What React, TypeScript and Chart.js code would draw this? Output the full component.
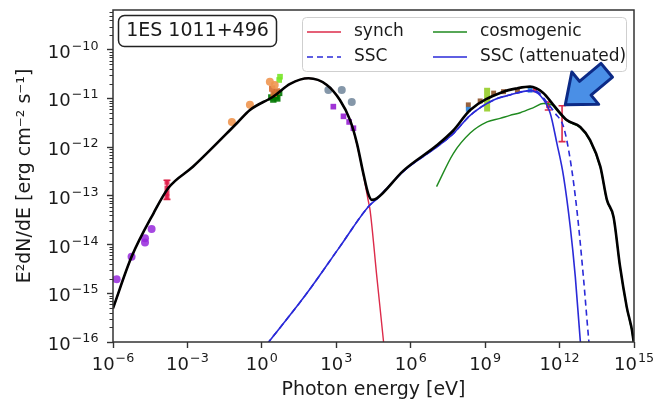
import React, { useEffect, useRef } from 'react';
import { Chart, registerables } from 'chart.js';
Chart.register(...registerables);

// ---------- model curves (E in eV, E^2 dN/dE in erg cm^-2 s^-1) ----------
const totalE = [1e-6, 5.6e-6, 4.3e-5, 1.7e-4, 1.7e-3, 9.8e-2, 0.33, 2.9, 13.8, 76, 417, 1.4e3, 3.6e3, 6.8e3, 1.23e4, 1.95e4, 2.7e4, 4.3e4, 5.1e5, 1.1e7, 5.2e7, 2.5e8, 5.5e9, 2.0e10, 6.5e10, 2.2e11, 5.6e11, 1.95e12, 6.8e12, 1.7e13, 4.4e13, 8.1e13, 1.5e14, 2.75e14, 5.1e14, 9.5e14, 1e15];
const totalF = [4.9e-16, 5.6e-15, 4.4e-14, 1.45e-13, 4.0e-13, 3.1e-12, 5.8e-12, 1.1e-11, 2.0e-11, 2.6e-11, 1.9e-11, 9.3e-12, 3.6e-12, 1.2e-12, 2.9e-13, 1.1e-13, 8.3e-14, 8.9e-14, 3.3e-13, 1.08e-12, 2.2e-12, 5.8e-12, 1.38e-11, 1.62e-11, 1.75e-11, 1.3e-11, 7.4e-12, 3.6e-12, 2.6e-12, 1.4e-12, 4.0e-13, 8.3e-14, 3.7e-14, 3.5e-15, 5.2e-16, 1.1e-16, 8e-17];

const synchE = [1e-6, 5.6e-6, 4.3e-5, 1.7e-4, 1.7e-3, 9.8e-2, 0.33, 2.9, 13.8, 76, 417, 1.4e3, 3.6e3, 6.8e3, 1.23e4, 1.95e4, 2.3e4, 4.3e4, 7.9e4, 8.9e4];
const synchF = [4.9e-16, 5.6e-15, 4.4e-14, 1.45e-13, 4.0e-13, 3.1e-12, 5.8e-12, 1.1e-11, 2.0e-11, 2.6e-11, 1.9e-11, 9.3e-12, 3.6e-12, 1.15e-12, 2.75e-13, 7.9e-14, 5.1e-14, 2.2e-15, 1.1e-16, 6e-17];

const sscAttE = [1.6, 65, 1.4e3, 1.95e4, 4.3e4, 5.1e5, 1.1e7, 5.2e7, 2.5e8, 2.2e9, 1e10, 6.5e10, 1.66e11, 4.2e11, 7.8e11, 1.45e12, 2.7e12, 4.3e12, 6.8e12, 7.2e12];
const sscAttF = [9e-17, 1e-15, 9.1e-15, 6.0e-14, 8.7e-14, 3.2e-13, 1.0e-12, 1.9e-12, 4.5e-12, 9.3e-12, 1.18e-11, 1.45e-11, 1.15e-11, 5.0e-12, 1.2e-12, 2.5e-13, 2.3e-14, 2.2e-15, 1.1e-16, 8e-17];

const sscE = [1.6, 65, 1.4e3, 1.95e4, 4.3e4, 5.1e5, 1.1e7, 5.2e7, 2.5e8, 2.2e9, 1e10, 6.5e10, 1.2e11, 3.0e11, 6.6e11, 1.45e12, 2.7e12, 5.0e12, 9.1e12, 1.5e13, 1.6e13];
const sscF = [9e-17, 1e-15, 9.1e-15, 6.0e-14, 8.7e-14, 3.2e-13, 1.0e-12, 1.9e-12, 4.5e-12, 9.3e-12, 1.18e-11, 1.45e-11, 1.4e-11, 8.5e-12, 5.0e-12, 2.6e-12, 5.5e-13, 5.1e-14, 2.2e-15, 1.1e-16, 8e-17];

const cosmoE = [1.1e7, 5.2e7, 2.5e8, 1.2e9, 4.0e9, 1e10, 2.6e10, 8.9e10, 2.2e11, 4.5e11, 8e11, 1.95e12, 6.8e12, 1.7e13, 4.4e13, 8.1e13, 1.5e14, 2.75e14, 5.1e14, 9.5e14, 1e15];
const cosmoF = [1.55e-13, 7.4e-13, 1.95e-12, 3.3e-12, 3.9e-12, 4.5e-12, 5.1e-12, 6.5e-12, 7.9e-12, 7.6e-12, 5.6e-12, 3.5e-12, 2.5e-12, 1.35e-12, 3.8e-13, 8e-14, 3.6e-14, 3.4e-15, 5e-16, 1.05e-16, 7.8e-17];

// ---------- observed data ----------
const radioE = [1.4e-6, 5.6e-6, 1.95e-5, 1.95e-5, 3.6e-5];
const radioF = [1.95e-15, 5.6e-15, 1.35e-14, 1.1e-14, 2.1e-14];
const mmE = [1.5e-4, 1.5e-4, 1.5e-4, 1.5e-4];
const mmF = [1.9e-13, 1.45e-13, 1.15e-13, 9.5e-14];
const optE = [6.2e-2, 0.33, 2.1, 3.3];
const optF = [3.3e-12, 7.4e-12, 2.2e-11, 1.9e-11];
const uvE = [2.6, 4.0, 3.0];
const uvF = [1.6e-11, 1.4e-11, 1.25e-11];
const xrayE = [2.4, 2.9, 3.4, 4.2, 5.0, 3.8];
const xrayF = [1.05e-11, 9.5e-12, 1.2e-11, 1.0e-11, 1.3e-11, 1.1e-11];
const xrayHiE = [5.4, 5.0];
const xrayHiF = [2.8e-11, 2.4e-11];
const slateE = [480, 1.66e3, 4.2e3];
const slateF = [1.5e-11, 1.5e-11, 8.5e-12];
const hardXE = [760, 1.95e3, 3.3e3, 4.9e3];
const hardXF = [6.8e-12, 4.3e-12, 3.3e-12, 2.45e-12];
const fermiE = [2.1e8, 6.3e8, 2.2e9, 5.5e9, 2.0e10];
const fermiF = [7.4e-12, 8.9e-12, 1.29e-11, 1.38e-11, 1.45e-11];
const fermiBlueE = [2.1e8, 6.5e10];
const fermiBlueF = [6.0e-12, 1.48e-11];
const vheE = [1.0e11, 3.5e11];
const vheF = [1.48e-11, 7.0e-12];
const errE = [1.5e-4, 3.5e11, 1.26e12];
const errLo = [8.5e-14, 5.8e-12, 1.3e-12];
const errHi = [2.1e-13, 8.5e-12, 7.1e-12];
const barE = [1.2e9];
const barLo = [5.4e-12];
const barHi = [1.66e-11];
const arrowTargetE = 1.7e12;
const arrowTargetF = 7.4e-12;

// ---------- ticks ----------
const xTickValues = [1e-6, 1e-3, 1, 1e3, 1e6, 1e9, 1e12, 1e15];
const xTickExps = ['−6', '−3', '0', '3', '6', '9', '12', '15'];
const yTickValues = [1e-16, 1e-15, 1e-14, 1e-13, 1e-12, 1e-11, 1e-10];
const yTickExps = ['−16', '−15', '−14', '−13', '−12', '−11', '−10'];
const yMinorMult = [2, 3, 4, 5, 6, 7, 8, 9];
const tickBase = '10';

const sourceName = '1ES 1011+496';
const FONT = 'DejaVu Sans';
const TXT = '#1a1a1a';
const C_SYN = '#dc2b4a';
const C_SSC = '#2a2ad8';
const C_COS = '#1f8a1f';

const pts = (xs: number[], ys: number[]) => xs.map((x, i) => ({ x, y: ys[i] }));

const lineDs = (label: string, xs: number[], ys: number[], color: string, width: number, dash: number[] = []) => ({
  type: 'line' as const,
  label,
  data: pts(xs, ys),
  borderColor: color,
  backgroundColor: color,
  borderWidth: width,
  borderDash: dash,
  pointRadius: 0,
  pointHoverRadius: 0,
  fill: false,
  cubicInterpolationMode: 'monotone' as const,
});

const dotDs = (label: string, xs: number[], ys: number[], color: string, style: string = 'circle', r = 4) => ({
  type: 'scatter' as const,
  label,
  data: pts(xs, ys),
  showLine: false,
  pointRadius: r,
  pointHoverRadius: r,
  pointStyle: style,
  pointBackgroundColor: color,
  pointBorderColor: color,
  pointBorderWidth: 0,
  borderColor: color,
  backgroundColor: color,
});

function drawPow(ctx: CanvasRenderingContext2D, exp: string, x: number, baseline: number, align: 'center' | 'right') {
  ctx.font = `18px "${FONT}"`;
  const wb = ctx.measureText(tickBase).width;
  ctx.font = `12.7px "${FONT}"`;
  const we = ctx.measureText(exp).width;
  const total = wb + 1 + we;
  const sx = align === 'center' ? x - total / 2 : x - total;
  ctx.textAlign = 'left';
  ctx.textBaseline = 'alphabetic';
  ctx.fillStyle = TXT;
  ctx.font = `18px "${FONT}"`;
  ctx.fillText(tickBase, sx, baseline);
  ctx.font = `12.7px "${FONT}"`;
  ctx.fillText(exp, sx + wb + 1, baseline - 8);
}

const decor = {
  id: 'decor',
  beforeDatasetsDraw(chart: any) {
    const { ctx, chartArea: a, scales } = chart;
    const xs = scales.x, ys = scales.y;
    ctx.save();
    ctx.beginPath();
    ctx.rect(a.left, a.top, a.right - a.left, a.bottom - a.top);
    ctx.clip();
    ctx.strokeStyle = 'rgba(150,205,40,0.9)';
    ctx.lineWidth = 6;
    barE.forEach((e, i) => {
      const x = xs.getPixelForValue(e);
      ctx.beginPath();
      ctx.moveTo(x, ys.getPixelForValue(barLo[i]));
      ctx.lineTo(x, ys.getPixelForValue(barHi[i]));
      ctx.stroke();
    });
    ctx.strokeStyle = C_SYN;
    ctx.lineWidth = 1.6;
    errE.forEach((e, i) => {
      const x = xs.getPixelForValue(e);
      const y1 = ys.getPixelForValue(errLo[i]);
      const y2 = ys.getPixelForValue(errHi[i]);
      ctx.beginPath();
      ctx.moveTo(x, y1); ctx.lineTo(x, y2);
      ctx.moveTo(x - 3.5, y1); ctx.lineTo(x + 3.5, y1);
      ctx.moveTo(x - 3.5, y2); ctx.lineTo(x + 3.5, y2);
      ctx.stroke();
    });
    ctx.restore();
  },
  afterDraw(chart: any) {
    const { ctx, chartArea: a, scales } = chart;
    const ys = scales.y, xs = scales.x;
    ctx.save();
    // frame
    ctx.strokeStyle = '#333';
    ctx.lineWidth = 1.5;
    ctx.strokeRect(a.left, a.top, a.right - a.left, a.bottom - a.top);
    // minor y ticks
    ctx.lineWidth = 1;
    ctx.beginPath();
    yTickValues.forEach((v) => {
      yMinorMult.forEach((m) => {
        const val = v * m;
        if (val > ys.max) return;
        const y = Math.round(ys.getPixelForValue(val)) + 0.5;
        ctx.moveTo(a.left - 3.5, y);
        ctx.lineTo(a.left, y);
      });
    });
    ctx.stroke();
    // tick labels
    xTickValues.forEach((v, i) => drawPow(ctx, xTickExps[i], xs.getPixelForValue(v), a.bottom + 28, 'center'));
    yTickValues.forEach((v, i) => drawPow(ctx, yTickExps[i], a.left - 14.5, ys.getPixelForValue(v) + 8, 'right'));

    // source label box
    ctx.fillStyle = '#fff';
    ctx.strokeStyle = '#222';
    ctx.lineWidth = 1.5;
    ctx.beginPath();
    ctx.roundRect(118.5, 15.5, 158, 31, 6);
    ctx.fill();
    ctx.stroke();
    ctx.fillStyle = TXT;
    ctx.font = `19px "${FONT}"`;
    ctx.textAlign = 'center';
    ctx.textBaseline = 'middle';
    ctx.fillText(sourceName, 197.5, 31.5);

    // legend
    ctx.fillStyle = 'rgba(255,255,255,0.85)';
    ctx.strokeStyle = '#cfcfcf';
    ctx.lineWidth = 1;
    ctx.beginPath();
    ctx.roundRect(302.5, 17.5, 324, 54, 4);
    ctx.fill();
    ctx.stroke();
    const ds = chart.data.datasets;
    const find = (l: string) => ds.find((d: any) => d.label === l);
    const entries = [
      { d: find('synch'), x: 307, y: 32 },
      { d: find('SSC'), x: 307, y: 57 },
      { d: find('cosmogenic'), x: 433, y: 32 },
      { d: find('SSC (attenuated)'), x: 433, y: 57 },
    ];
    ctx.font = `17px "${FONT}"`;
    ctx.textAlign = 'left';
    ctx.textBaseline = 'middle';
    entries.forEach(({ d, x, y }) => {
      ctx.strokeStyle = d.borderColor;
      ctx.lineWidth = d.borderWidth;
      ctx.setLineDash(d.borderDash || []);
      ctx.beginPath();
      ctx.moveTo(x, y);
      ctx.lineTo(x + 34, y);
      ctx.stroke();
      ctx.setLineDash([]);
      ctx.fillStyle = TXT;
      ctx.fillText(d.label, x + 47, y);
    });

    // arrow
    const tx = xs.getPixelForValue(arrowTargetE);
    const ty = ys.getPixelForValue(arrowTargetF);
    const ang = Math.atan2(-1, 1.2);
    const L = 54, HL = 26, HW = 21, SW = 9;
    const shape = [
      [0, 0], [HL, -HW], [HL, -SW], [L, -SW], [L, SW], [HL, SW], [HL, HW],
    ];
    const ca = Math.cos(ang), sa = Math.sin(ang);
    ctx.beginPath();
    shape.forEach(([u, v], i) => {
      const px = tx + u * ca - v * sa;
      const py = ty + u * sa + v * ca;
      if (i === 0) ctx.moveTo(px, py); else ctx.lineTo(px, py);
    });
    ctx.closePath();
    ctx.fillStyle = '#4a8fe6';
    ctx.fill();
    ctx.strokeStyle = '#0c2a86';
    ctx.lineWidth = 3;
    ctx.lineJoin = 'round';
    ctx.stroke();
    ctx.restore();
  },
};

export default function App() {
  const ref = useRef<HTMLCanvasElement>(null);
  useEffect(() => {
    const canvas = ref.current;
    if (!canvas) return;
    const chart = new Chart(canvas, {
      type: 'line',
      data: {
        datasets: [
          lineDs('total', totalE, totalF, '#000', 2.6),
          lineDs('SSC (attenuated)', sscAttE, sscAttF, C_SSC, 1.6),
          lineDs('SSC', sscE, sscF, C_SSC, 1.6, [6, 4]),
          lineDs('cosmogenic', cosmoE, cosmoF, C_COS, 1.4),
          lineDs('synch', synchE, synchF, C_SYN, 1.4),
          dotDs('radio', radioE, radioF, 'rgba(150,40,220,0.85)'),
          dotDs('mm', mmE, mmF, 'rgba(225,25,70,0.85)', 'rect', 3.5),
          dotDs('optical', optE, optF, 'rgba(240,150,80,0.9)'),
          dotDs('uv', uvE, uvF, 'rgba(215,110,50,0.9)', 'rect', 4.5),
          dotDs('xray', xrayE, xrayF, 'rgba(0,120,0,0.9)', 'rect', 4.5),
          dotDs('xrayHi', xrayHiE, xrayHiF, 'rgba(120,230,40,0.9)', 'rect', 4),
          dotDs('slate', slateE, slateF, 'rgba(120,140,160,0.9)'),
          dotDs('hardX', hardXE, hardXF, 'rgba(150,30,210,0.9)', 'rect', 4),
          dotDs('fermiBlue', fermiBlueE, fermiBlueF, 'rgba(40,130,220,0.9)', 'rect', 3.5),
          dotDs('fermi', fermiE, fermiF, 'rgba(140,80,40,0.9)', 'rect', 3.5),
          dotDs('vhe', vheE, vheF, 'rgba(220,30,70,0.9)', 'rect', 3),
        ] as any,
      },
      options: {
        animation: false,
        responsive: false,
        devicePixelRatio: 1,
        events: [],
        layout: { padding: { top: 10, right: 22, left: 0, bottom: 0 } },
        plugins: { legend: { display: false }, tooltip: { enabled: false } },
        scales: {
          x: {
            type: 'logarithmic',
            min: 1e-6,
            max: 1e15,
            afterBuildTicks: (s: any) => { s.ticks = xTickValues.map((v) => ({ value: v })); },
            afterFit: (s: any) => { s.height = 61; },
            grid: { drawOnChartArea: false, drawTicks: true, tickLength: 6, tickWidth: 1.4, tickColor: '#333' },
            border: { display: false },
            ticks: { display: false, autoSkip: false, maxRotation: 0 },
            title: { display: true, text: 'Photon energy [eV]', color: TXT, font: { family: FONT, size: 19 }, padding: { top: 0, bottom: 2 } },
          },
          y: {
            type: 'logarithmic',
            min: 1e-16,
            max: 6.56e-10,
            afterBuildTicks: (s: any) => { s.ticks = yTickValues.map((v) => ({ value: v })); },
            afterFit: (s: any) => { s.width = 113; },
            grid: { drawOnChartArea: false, drawTicks: true, tickLength: 6, tickWidth: 1.4, tickColor: '#333' },
            border: { display: false },
            ticks: { display: false, autoSkip: false },
            title: { display: true, text: 'E²dN/dE [erg cm⁻² s⁻¹]', color: TXT, font: { family: FONT, size: 19 }, padding: { top: 14, bottom: 0 } },
          },
        },
      },
      plugins: [decor],
    } as any);
    return () => chart.destroy();
  }, []);
  return (
    <div style={{ position: 'absolute', left: 0, top: 0, width: 656, height: 403, background: '#fff' }}>
      <canvas ref={ref} width={656} height={403} style={{ display: 'block' }} />
    </div>
  );
}
